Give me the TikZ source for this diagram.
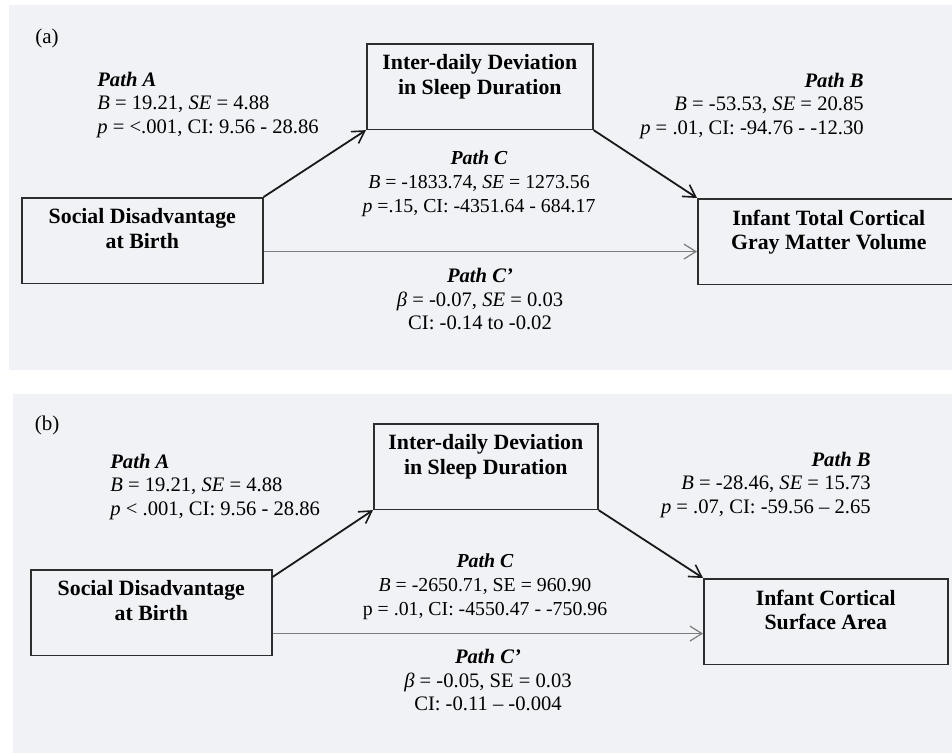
\documentclass[tikz,border=0pt]{standalone}
\usepackage{fontspec}
\setmainfont{Liberation Serif}
\usetikzlibrary{arrows.meta}
\definecolor{panelgray}{RGB}{241,242,245}
\definecolor{edgegray}{RGB}{45,45,45}
\definecolor{directgray}{RGB}{125,125,125}
\tikzset{
    panel/.style = {fill=panelgray, draw=none},
    varbox/.style = {rectangle, draw=edgegray, line width=0.8pt, fill=panelgray, align=center, font=\fontsize{10.9}{12.2}\selectfont\bfseries, inner xsep=2pt, inner ysep=5.5pt, text depth=12pt, anchor=north west},
    pathtext/.style = {font=\fontsize{10.3}{11.9}\selectfont, inner sep=0pt},
    arrow/.style = {line width=0.9pt, draw=black!90, -{Straight Barb[length=6pt,width=7pt,line width=0.8pt]}},
    direct/.style = {line width=0.8pt, draw=directgray, -{Straight Barb[length=6pt,width=7.5pt,line width=0.6pt]}}
}

\begin{document}
\begin{tikzpicture}[x=0.5pt,y=-0.5pt]
\useasboundingbox (0,0) rectangle (952,754);
\clip (0,0) rectangle (952,754);

% Panel backgrounds
\fill [panel] (9,5) rectangle (952,370);
\fill [panel] (13,394) rectangle (952,753);

% ---------- Panel (a) ----------
\node (tag_a) [pathtext, font=\fontsize{10.5}{12}\selectfont] at (47,38) {(a)};

\node (soc_a) [varbox, minimum width=120.5pt] at (21,197) {Social Disadvantage\\at Birth};
\node (dev_a) [varbox, minimum width=113pt] at (366,43) {Inter-daily Deviation\\in Sleep Duration};
\node (gmv_a) [varbox, minimum width=131pt] at (697,198) {Infant Total Cortical\\Gray Matter Volume};

\node (pathA_a) [pathtext, anchor=west, align=left] at (97,105) {\textbf{\textit{Path A}}\\\textit{B} = 19.21, \textit{SE} = 4.88\\\textit{p} = <.001, CI: 9.56 - 28.86};
\node (pathB_a) [pathtext, anchor=east, align=right] at (864,106) {\textbf{\textit{Path B}}\\\textit{B} = -53.53, \textit{SE} = 20.85\\\textit{p} = .01, CI: -94.76 - -12.30};
\node (pathC_a) [pathtext, align=center, font=\fontsize{9.9}{11.9}\selectfont] at (479,184) {\textbf{\textit{Path C}}\\\textit{B} = -1833.74, \textit{SE} = 1273.56\\\textit{p} =.15, CI: -4351.64 - 684.17};
\node (pathCp_a) [pathtext, align=center] at (480,299) {\textbf{\textit{Path C’}}\\\textit{β} = -0.07, \textit{SE} = 0.03\\CI: -0.14 to -0.02};

\draw [arrow] (soc_a.north east) -- (dev_a.south west);
\draw [arrow] (dev_a.south east) -- (gmv_a.north west);
\draw [direct] ([yshift=-5.5pt]soc_a.east) -- ([yshift=-5.5pt]soc_a.east -| gmv_a.west);

% ---------- Panel (b) ----------
\node (tag_b) [pathtext, font=\fontsize{10.5}{12}\selectfont] at (47,425) {(b)};

\node (soc_b) [varbox, minimum width=120.5pt] at (30,569) {Social Disadvantage\\at Birth};
\node (dev_b) [varbox, minimum width=112pt] at (373,423) {Inter-daily Deviation\\in Sleep Duration};
\node (csa_b) [varbox, minimum width=122pt] at (703,578) {Infant Cortical\\Surface Area};

\node (pathA_b) [pathtext, anchor=west, align=left] at (110,487) {\textbf{\textit{Path A}}\\\textit{B} = 19.21, \textit{SE} = 4.88\\\textit{p} < .001, CI: 9.56 - 28.86};
\node (pathB_b) [pathtext, anchor=east, align=right] at (871,485) {\textbf{\textit{Path B}}\\\textit{B} = -28.46, \textit{SE} = 15.73\\\textit{p} = .07, CI: -59.56 – 2.65};
\node (pathC_b) [pathtext, align=center, font=\fontsize{9.9}{11.9}\selectfont] at (485,587) {\textbf{\textit{Path C}}\\\textit{B} = -2650.71, SE = 960.90\\p = .01, CI: -4550.47 - -750.96};
\node (pathCp_b) [pathtext, align=center] at (488,680) {\textbf{\textit{Path C’}}\\\textit{β} = -0.05, SE = 0.03\\CI: -0.11 – -0.004};

\draw [arrow] ([yshift=-4pt]soc_b.north east) -- (dev_b.south west);
\draw [arrow] (dev_b.south east) -- (csa_b.north west);
\draw [direct] ([yshift=-10.5pt]soc_b.east) -- ([yshift=-10.5pt]soc_b.east -| csa_b.west);

\end{tikzpicture}
\end{document}
